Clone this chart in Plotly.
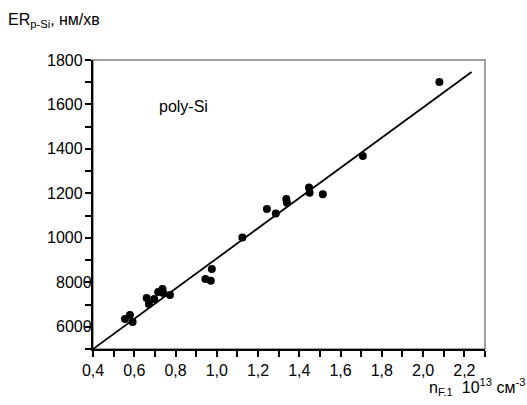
import plotly.graph_objects as go

# ---- data ----
n_f1 = [0.555, 0.579, 0.592, 0.660, 0.671, 0.697, 0.716, 0.737, 0.740, 0.773,
        0.945, 0.971, 0.976, 1.124, 1.243, 1.286, 1.337, 1.340, 1.447, 1.450,
        1.514, 1.708, 2.079]
er_psi = [635, 653, 621, 729, 702, 725, 756, 770, 752, 743,
          815, 807, 860, 1001, 1130, 1109, 1175, 1158, 1226, 1203,
          1196, 1368, 1701]
fit_x = [0.40, 2.235]
fit_y = [500, 1746]

xtick_vals = [0.4, 0.6, 0.8, 1.0, 1.2, 1.4, 1.6, 1.8, 2.0, 2.2]
xtick_text = ["0,4", "0,6", "0,8", "1,0", "1,2", "1,4", "1,6", "1,8", "2,0", "2,2"]
ytick_vals = [600, 800, 1000, 1200, 1400, 1600, 1800]
ytick_text = ["6000", "8000", "1000", "1200", "1400", "1600", "1800"]

FONT = "Liberation Sans, Arial, sans-serif"

fig = go.Figure()
fig.add_trace(go.Scatter(x=fit_x, y=fit_y, mode="lines",
                         line=dict(color="black", width=1.8),
                         showlegend=False, hoverinfo="skip"))
fig.add_trace(go.Scatter(x=n_f1, y=er_psi, mode="markers",
                         marker=dict(color="black", size=8),
                         showlegend=False))

# gray frame (top/right)
fig.add_shape(type="rect", xref="x domain", yref="y domain", x0=0, x1=1, y0=0, y1=1,
              line=dict(color="#808080", width=1.5), layer="below")

# y tick labels (right-aligned on first three digits as in the original)
for v, t in zip(ytick_vals, ytick_text):
    overflow = int(t) != v
    fig.add_annotation(xref="x domain", x=0, yref="y", y=v, text=t,
                       showarrow=False, xanchor="right", yanchor="middle",
                       xshift=1 if overflow else -8,
                       font=dict(family=FONT, size=16, color="black"))

fig.add_annotation(xref="x", x=0.71, yref="y", y=1590, text="poly-Si",
                   showarrow=False, xanchor="left", yanchor="middle",
                   font=dict(family=FONT, size=16, color="black"))
fig.add_annotation(xref="paper", x=0, yref="paper", y=1, xanchor="left", yanchor="middle",
                   xshift=-87, yshift=40,
                   text="ER<sub>p-Si</sub>, нм/хв", showarrow=False,
                   font=dict(family=FONT, size=16, color="black"))
fig.add_annotation(xref="paper", x=1, yref="paper", y=0, xanchor="right", yanchor="middle",
                   xshift=42, yshift=-38,
                   text="n<sub>F.1</sub>  10<sup>13</sup> см<sup>-3</sup>", showarrow=False,
                   font=dict(family=FONT, size=16, color="black"))

fig.update_layout(
    width=527, height=405,
    margin=dict(l=93, r=42, t=60, b=56),
    paper_bgcolor="white", plot_bgcolor="white",
    font=dict(family=FONT, size=16, color="black"),
    xaxis=dict(range=[0.4, 2.3], tickvals=xtick_vals, ticktext=xtick_text,
               ticks="outside", ticklen=6, tickwidth=1.5, tickcolor="black",
               showline=True, linecolor="black", linewidth=1.5,
               showgrid=False, zeroline=False,
               minor=dict(dtick=0.1, tick0=0.4, ticks="outside", ticklen=6,
                          tickwidth=1.5, tickcolor="black", showgrid=False),
               tickfont=dict(family=FONT, size=16, color="black")),
    yaxis=dict(range=[500, 1800], tickvals=ytick_vals, showticklabels=False,
               ticks="outside", ticklen=6, tickwidth=1.5, tickcolor="black",
               showline=True, linecolor="black", linewidth=1.5,
               showgrid=False, zeroline=False,
               minor=dict(dtick=100, tick0=500, ticks="outside", ticklen=6,
                          tickwidth=1.5, tickcolor="black", showgrid=False)),
)

fig.write_html("out.html")
